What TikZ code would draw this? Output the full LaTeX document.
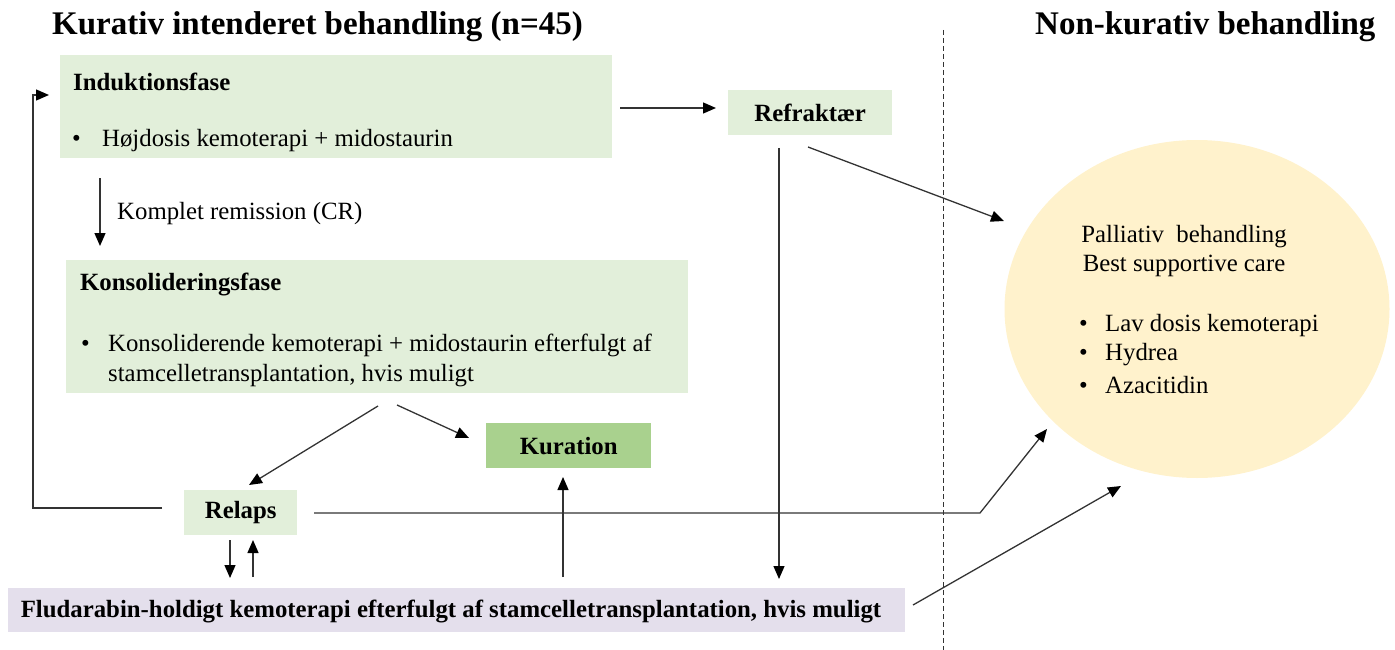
\documentclass[tikz,border=0pt]{standalone}
\usepackage{fontspec}
\setmainfont{Liberation Serif}
\usetikzlibrary{arrows.meta,shapes.geometric}
\definecolor{lgreen}{HTML}{E2EFDA}
\definecolor{mgreen}{HTML}{A9D18E}
\definecolor{lav}{HTML}{E4DFEC}
\definecolor{lyel}{HTML}{FFF2CC}
\definecolor{ln}{HTML}{333333}
\tikzset{
  box/.style={draw=none,inner sep=0pt,anchor=north west},
  txt/.style={inner sep=0pt,yshift=-3pt,font=\fontsize{24.8}{28}\selectfont},
  btxt/.style={inner sep=0pt,yshift=-2pt,font=\fontsize{24.8}{28}\selectfont\bfseries},
  ttl/.style={inner sep=0pt,anchor=west,yshift=-3pt,font=\fontsize{33}{36}\selectfont\bfseries},
  con/.style={draw=ln,line width=1.3pt},
  arr/.style={con,-{Triangle[length=13pt,width=11pt,fill=black,color=black]}},
}
\begin{document}
\begin{tikzpicture}[x=1pt,y=-1pt]
\useasboundingbox (0,0) rectangle (1395,650);
% titles
\node[ttl] (t1) at (52,24) {Kurativ intenderet behandling (n=45)};
\node[ttl] (t2) at (1035,24) {Non-kurativ behandling};
% dashed separator
\coordinate (d1) at (943,30);
\coordinate (d2) at (943,650);
\draw[ln,line width=0.9pt,dash pattern=on 5pt off 3pt] (d1) -- (d2);
% boxes
\node[box,fill=lgreen,minimum width=552pt,minimum height=103pt] (ind) at (60,55) {};
\node[btxt,anchor=west] (indt) at (73,80) {Induktionsfase};
\node[txt,anchor=west] (indb) at (72,138) {\makebox[30pt][l]{•}Højdosis kemoterapi + midostaurin};
\node[box,fill=lgreen,minimum width=164pt,minimum height=45pt] (ref) at (728,90) {};
\node[btxt,yshift=2pt] (reft) at (ref.center) {Refraktær};
\node[txt,anchor=west] (cr) at (117,211) {Komplet remission (CR)};
\node[box,fill=lgreen,minimum width=622pt,minimum height=133pt] (kon) at (66,260) {};
\node[btxt,anchor=west] (kont) at (80,283) {Konsolideringsfase};
\node[txt,anchor=west] (konb) at (81,342) {\makebox[27pt][l]{•}Konsoliderende kemoterapi + midostaurin efterfulgt af};
\node[txt,anchor=west] (konc) at (108,373) {stamcelletransplantation, hvis muligt};
\node[box,fill=mgreen,minimum width=165pt,minimum height=45pt] (kur) at (486,423) {};
\node[btxt,yshift=2pt] (kurt) at (kur.center) {Kuration};
\node[box,fill=lgreen,minimum width=113pt,minimum height=45pt] (rel) at (184,490) {};
\node[btxt,yshift=2pt] (relt) at (rel.center) {Relaps};
\node[box,fill=lav,minimum width=897pt,minimum height=44pt] (flu) at (8,588) {};
\node[btxt] (flut) at (451,610) {Fludarabin-holdigt kemoterapi efterfulgt af stamcelletransplantation, hvis muligt};
% ellipse
\node[ellipse,fill=lyel,minimum width=385pt,minimum height=338pt,inner sep=0pt] (pal) at (1197,309) {};
\node[txt] (p1) at (1184,234) {Palliativ\ \ behandling};
\node[txt] (p2) at (1184,263) {Best supportive care};
\node[txt,anchor=west] (p3) at (1079,323) {\makebox[26pt][l]{•}Lav dosis kemoterapi};
\node[txt,anchor=west] (p4) at (1079,352) {\makebox[26pt][l]{•}Hydrea};
\node[txt,anchor=west] (p5) at (1079,382) {\makebox[26pt][l]{•}Azacitidin};
% connectors
\coordinate (a1) at (620,108); \coordinate (a2) at (716,108);
\draw[arr] (a1) -- (a2);
\coordinate (b1) at (100,178); \coordinate (b2) at (100,246);
\draw[arr] (b1) -- (b2);
\coordinate (c1) at (779,148); \coordinate (c2) at (779,579);
\draw[arr] (c1) -- (c2);
\coordinate (e1) at (808,147); \coordinate (e2) at (1004,221);
\draw[arr] (e1) -- (e2);
\coordinate (f1) at (378,406); \coordinate (f2) at (249,485);
\draw[arr] (f1) -- (f2);
\coordinate (g1) at (397,405); \coordinate (g2) at (469,438);
\draw[arr] (g1) -- (g2);
\coordinate (h1) at (162,508); \coordinate (h2) at (33,508); \coordinate (h3) at (33,95); \coordinate (h4) at (49,95);
\draw[arr] (h1) -- (h2) -- (h3) -- (h4);
\coordinate (i1) at (314,513); \coordinate (i2) at (980,513); \coordinate (i3) at (1047,429);
\draw[arr] (i1) -- (i2) -- (i3);
\coordinate (j1) at (230,540); \coordinate (j2) at (230,578);
\draw[arr] (j1) -- (j2);
\coordinate (k1) at (253,577); \coordinate (k2) at (253,540);
\draw[arr] (k1) -- (k2);
\coordinate (l1) at (563,577); \coordinate (l2) at (563,477);
\draw[arr] (l1) -- (l2);
\coordinate (m1) at (913,605); \coordinate (m2) at (1121,486);
\draw[arr] (m1) -- (m2);
\end{tikzpicture}
\end{document}
